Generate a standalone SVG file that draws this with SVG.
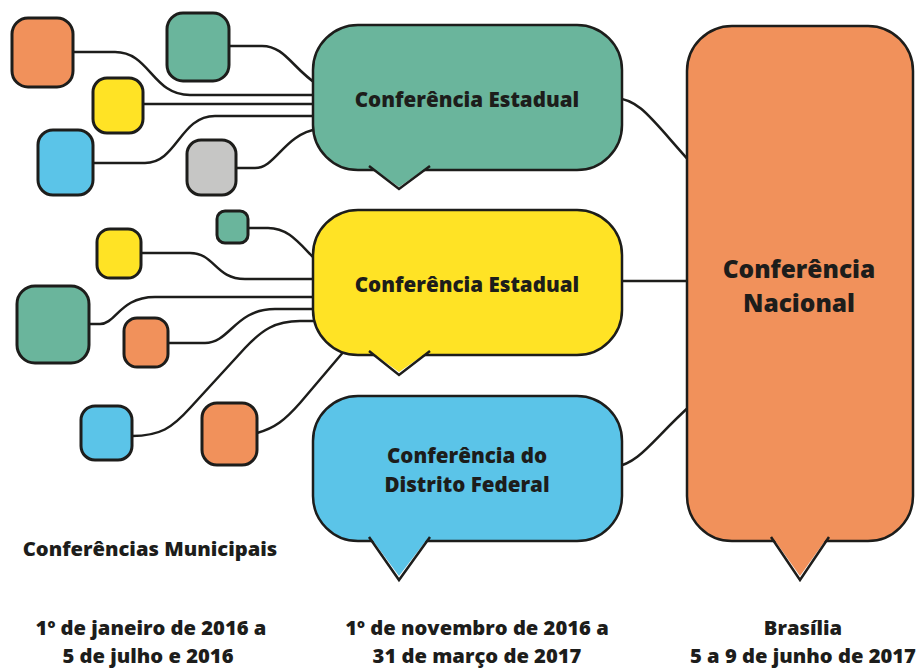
<svg xmlns="http://www.w3.org/2000/svg" width="921" height="670" viewBox="0 0 921 670">
<style>
.ln{fill:none;stroke:#1d1d1b;stroke-width:2.5;stroke-linejoin:round}
.bx{stroke:#1d1d1b;stroke-width:3}
.bb{stroke:#1d1d1b;stroke-width:2.5}
.tl{fill:none;stroke:#1d1d1b;stroke-width:2.5;stroke-linejoin:miter}
.g{fill:#6ab59c}.o{fill:#f1915b}.y{fill:#ffe325}.b{fill:#5bc4e8}.gr{fill:#c6c6c5}
text{font-family:"Open Sans","Liberation Sans",sans-serif;font-weight:800;fill:#1d1d1b;text-anchor:middle}
.t{font-size:20.6px}.big{font-size:24.5px}.s{font-size:20.2px}
</style>
<rect width="921" height="670" fill="#fff"/>
<g id="connectors">
<path class="ln" d="M73 52H115C150 52 152 95 190 95H330"/>
<path class="ln" d="M229 46H262C285 46 292 68 318 85"/>
<path class="ln" d="M143 104H330"/>
<path class="ln" d="M93 163H145C177 163 180 116 215 116H330"/>
<path class="ln" d="M236 168H255C276 168 284 134 318 129"/>
<path class="ln" d="M248 228H268C290 228 300 245 320 264"/>
<path class="ln" d="M141 253H190C215 253 215 279 245 279H330"/>
<path class="ln" d="M89 324H100C116 324 120 297 155 297H330"/>
<path class="ln" d="M168 343H205C230 343 235 309 275 309H330"/>
<path class="ln" d="M132 436C160 436 172 428 190 408L245 348C262 330 275 321 300 321H330"/>
<path class="ln" d="M257 433C275 428 285 420 300 403L345 350"/>
<path class="ln" d="M615 98C640 99 652 120 692 164"/>
<path class="ln" d="M615 281H692"/>
<path class="ln" d="M615 467C640 463 652 440 692 404"/>
</g>
<g id="m1"><rect class="bx o" x="12" y="18" width="61" height="69" rx="16"/></g>
<g id="m2"><rect class="bx g" x="167" y="13" width="62" height="68" rx="16"/></g>
<g id="m3"><rect class="bx y" x="93" y="78" width="50" height="55" rx="14"/></g>
<g id="m4"><rect class="bx b" x="38" y="130" width="55" height="65" rx="15"/></g>
<g id="m5"><rect class="bx gr" x="187" y="140" width="49" height="55" rx="14"/></g>
<g id="m6"><rect class="bx g" x="217" y="211" width="31" height="32" rx="8"/></g>
<g id="m7"><rect class="bx y" x="97" y="229" width="44" height="49" rx="13"/></g>
<g id="m8"><rect class="bx g" x="17" y="286" width="72" height="77" rx="18"/></g>
<g id="m9"><rect class="bx o" x="124" y="318" width="44" height="49" rx="13"/></g>
<g id="m10"><rect class="bx b" x="81" y="406" width="51" height="54" rx="14"/></g>
<g id="m11"><rect class="bx o" x="202" y="403" width="55" height="62" rx="15"/></g>
<g id="est1">
<rect class="bb g" x="313" y="25" width="309" height="145" rx="45"/>
<polygon class="g" points="371,167 428,167 399,187"/>
<polyline class="tl" points="369,166 399,189 430,166"/>
<text class="t" x="467" y="107">Conferência Estadual</text>
</g>
<g id="est2">
<rect class="bb y" x="313" y="210" width="309" height="145" rx="45"/>
<polygon class="y" points="371,352 428,352 399,372"/>
<polyline class="tl" points="369,351 399,375 430,351"/>
<text class="t" x="467" y="292">Conferência Estadual</text>
</g>
<g id="df">
<rect class="bb b" x="313" y="396" width="309" height="145" rx="45"/>
<polygon class="b" points="371,538 428,538 399,576"/>
<polyline class="tl" points="369,537 399,580 430,537"/>
<text class="t" x="467" y="463">Conferência do</text>
<text class="t" x="467" y="492">Distrito Federal</text>
</g>
<g id="nac">
<rect class="bb o" x="687" y="26" width="226" height="515" rx="45"/>
<polygon class="o" points="773,538 827,538 800,576"/>
<polyline class="tl" points="771,537 800,580 829,537"/>
<text class="big" x="799" y="278">Conferência</text>
<text class="big" x="799" y="312">Nacional</text>
</g>
<g id="labels">
<text class="s" x="150" y="556">Conferências Municipais</text>
<text class="s" x="151" y="635">1º de janeiro de 2016 a</text>
<text class="s" x="148" y="663">5 de julho e 2016</text>
<text class="s" x="477" y="635">1º de novembro de 2016 a</text>
<text class="s" x="477" y="663">31 de março de 2017</text>
<text class="s" x="803" y="635">Brasília</text>
<text class="s" x="803" y="663">5 a 9 de junho de 2017</text>
</g>
</svg>
